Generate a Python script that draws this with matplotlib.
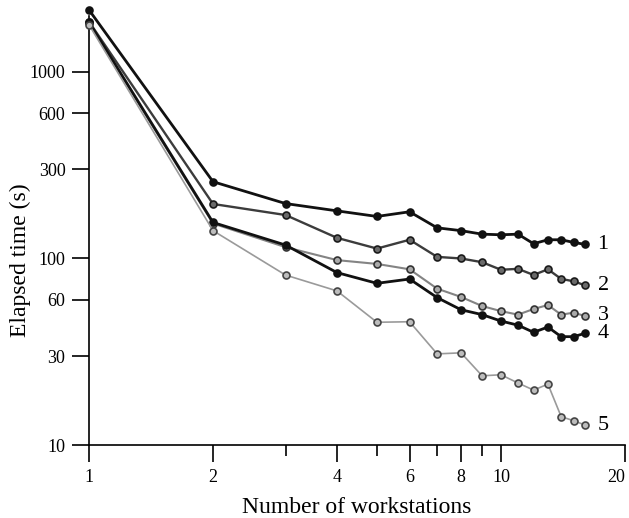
import numpy as np
import matplotlib.pyplot as plt
from matplotlib.transforms import ScaledTranslation

# number of workstations
workstations = [1, 2, 3, 4, 5, 6, 7, 8, 9, 10, 11, 12, 13, 14, 15, 16]

# elapsed time (s) for each curve
time_1 = [2150, 258, 197, 180, 168, 178, 146, 141, 135, 134, 135, 120, 126, 126, 122, 119]
time_2 = [1860, 196, 171, 129, 113, 126, 102, 100, 95.5, 87, 88, 81.6, 87.5, 77.7, 75.5, 71.8]
time_3 = [1820, 154, 115, 98, 93.5, 87.5, 68.9, 62.2, 55.6, 52.2, 50, 53.6, 56.3, 50, 51.2, 49.2]
time_4 = [1850, 156, 118, 84, 73.6, 77.6, 61.7, 53.1, 50, 46.2, 43.9, 40.2, 42.9, 38.1, 38.1, 39.7]
time_5 = [1790, 141, 81.5, 67, 45.5, 45.8, 30.8, 31.2, 23.5, 23.8, 21.5, 19.7, 21.2, 14.2, 13.5, 12.8]

curve_labels = ["1", "2", "3", "4", "5"]

plt.rcParams['font.family'] = ['Liberation Serif', 'DejaVu Serif']

fig = plt.figure(figsize=(6.29, 5.18), dpi=100)
ax = fig.add_axes([0.1415, 0.1409, 0.8521, 0.8286])

# (line colour, marker face, marker edge, line width)
styles = [
    ('#111111', '#111111', '#111111', 2.0),
    ('#3c3c3c', '#6a6a6a', '#1a1a1a', 1.7),
    ('#848484', '#aaaaaa', '#333333', 1.5),
    ('#111111', '#111111', '#111111', 2.0),
    ('#9a9a9a', '#bdbdbd', '#444444', 1.2),
]

all_times = [time_1, time_2, time_3, time_4, time_5]
for times, (lc, mf, me, lw), lab in zip(all_times, styles, curve_labels):
    ax.plot(workstations, times, color=lc, lw=lw, marker='o', markersize=5,
            markerfacecolor=mf, markeredgecolor=me, markeredgewidth=1.2,
            clip_on=False, zorder=3)
    ax.annotate(lab, (workstations[-1], times[-1]), xytext=(9, 0),
                textcoords='offset points', va='center', ha='left', fontsize=16)

ax.set_xscale('log')
ax.set_yscale('log')
ax.set_xlim(1, 20)
ax.set_ylim(10, 2000)

ax.set_xticks([1, 2, 4, 6, 8, 10, 20])
ax.set_xticklabels(['1', '2', '4', '6', '8', '10', '20'])
ax.set_xticks([3, 5, 7, 9], minor=True)
ax.set_xticklabels([], minor=True)
ax.set_yticks([10, 30, 60, 100, 300, 600, 1000])
ax.set_yticklabels(['10', '30', '60', '100', '300', '600', '1000'])
ax.yaxis.set_minor_locator(plt.NullLocator())

ax.tick_params(axis='both', which='major', direction='out', length=12, width=1.2,
               labelsize=13, pad=5)
ax.tick_params(axis='x', which='minor', direction='out', length=8, width=1.2)

# keep the "20" inside the picture
last = ax.xaxis.get_major_ticks()[-1].label1
last.set_transform(last.get_transform() + ScaledTranslation(-6 / 72, 0, fig.dpi_scale_trans))

for s in ['top', 'right']:
    ax.spines[s].set_visible(False)
for s in ['left', 'bottom']:
    ax.spines[s].set_linewidth(1.2)

ax.set_xlabel("Number of workstations", fontsize=17, labelpad=8)
ax.set_ylabel("Elapsed time (s)", fontsize=17)
ax.yaxis.set_label_coords(-0.108, 0.43)

fig.savefig("out.png", dpi=100)
